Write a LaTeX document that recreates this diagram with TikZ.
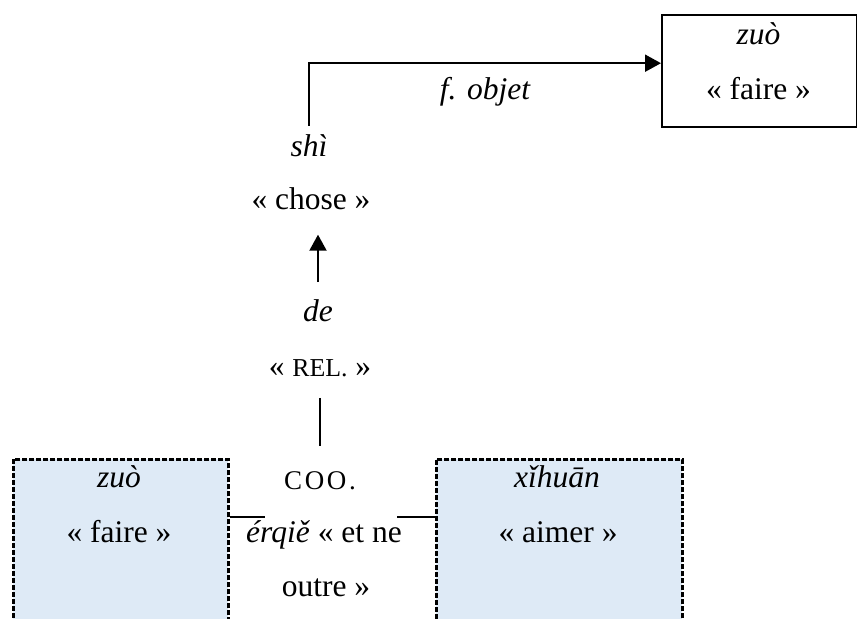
\documentclass[tikz,border=0pt]{standalone}
\usepackage{fontspec}
\setmainfont{Liberation Serif}
\usetikzlibrary{arrows.meta}
\definecolor{boxblue}{RGB}{222,234,246}
\newcommand{\glfont}{\fontsize{15.75pt}{18pt}\selectfont}
\newcommand{\gsc}[1]{{\fontsize{12.9pt}{14pt}\selectfont #1}}

\begin{document}
\begin{tikzpicture}[x=0.5pt, y=-0.5pt,
    word/.style={inner sep=0pt, anchor=base, font=\glfont},
    lemma/.style={word, font=\glfont\itshape},
    headbox/.style={draw, line width=1.2pt, inner sep=0pt, anchor=north west},
    sharebox/.style={headbox, line width=1.3pt, dash pattern=on 2.5pt off 1pt, fill=boxblue},
    link/.style={line width=1pt},
    arr/.style={link, -{Triangle[length=8pt, width=8.5pt]}}]

  % Canvas (1 unit = 1 px of the page)
  \useasboundingbox (0,0) rectangle (857,619);
  \clip (0,0) rectangle (857,619);

  % Boxes
  \node[headbox, minimum width=97.5pt, minimum height=56pt] (boxT) at (661,14) {};
  \node[sharebox, minimum width=107.5pt, minimum height=100pt] (boxL) at (12,458) {};
  \node[sharebox, minimum width=123pt, minimum height=100pt] (boxR) at (435,458) {};

  % Head: zuò
  \node[lemma] (zuoT) at (758.5,45) {zuò};
  \node[word] (faireT) at (758.5,100) {« faire »};
  \node[lemma] (fobjet) at (485,100) {f. objet};

  % shì and de
  \node[lemma] (shi) at (309,157) {shì};
  \node[word] (chose) at (311,210) {« chose »};
  \node[lemma] (de) at (318,322) {de};
  \node[word] (rel) at (320,377) {« \gsc{REL.} »};

  % Coordination
  \node[word] (coo) at (320,490) {{\fontsize{13.5pt}{14pt}\selectfont\addfontfeature{LetterSpace=10}COO.}};
  \node[word] (erqie) at (324,543) {\textit{érqiě} « et ne};
  \node[word] (outre) at (326,597) {outre »};
  \coordinate (cooL) at (265,517);
  \coordinate (cooR) at (397,517);

  % Conjuncts
  \node[lemma] (zuoL) at (119,488) {zuò};
  \node[word] (faireL) at (119,543) {« faire »};
  \node[lemma] (xihuan) at (557,488) {xǐhuān};
  \node[word] (aimer) at (558,543) {« aimer »};

  % Connectors
  \draw[arr, shorten <=4.5pt] (shi.north) |- ([yshift=4pt]boxT.west);
  \draw[arr, shorten <=8.75pt, shorten >=12pt] (de.north) -- (de.north |- chose.south);
  \draw[link, shorten <=10pt, shorten >=13pt] (rel.south) -- (rel.south |- coo.north);
  \draw[link] (boxL.east |- cooL) -- (cooL);
  \draw[link] (cooR) -- (boxR.west |- cooR);
\end{tikzpicture}
\end{document}
